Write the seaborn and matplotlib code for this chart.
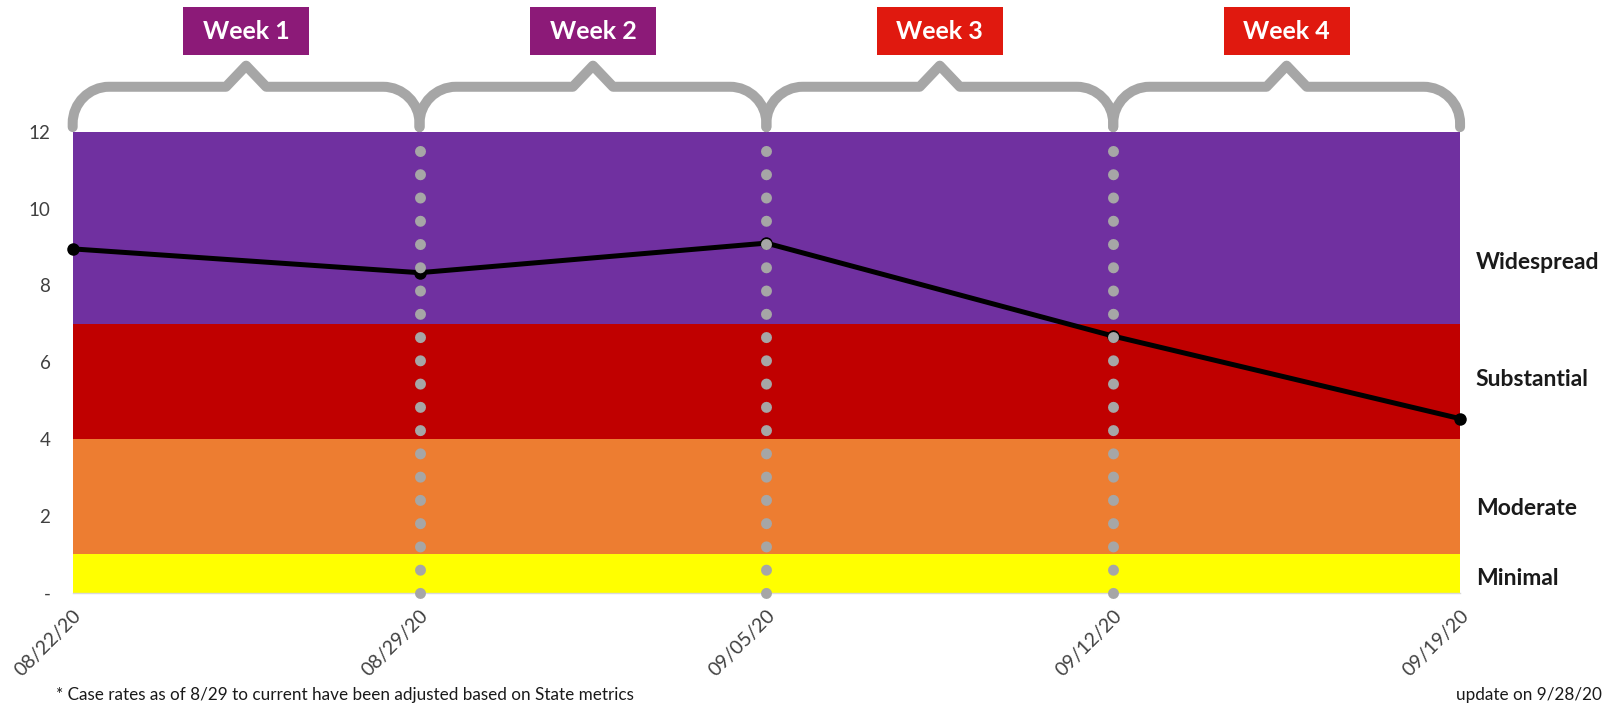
import matplotlib
matplotlib.use("Agg")
import matplotlib.pyplot as plt
import seaborn as sns
from matplotlib.path import Path
from matplotlib.patches import PathPatch, Rectangle
from matplotlib.lines import Line2D

# ---------------- data ----------------
dates = ["08/22/20", "08/29/20", "09/05/20", "09/12/20", "09/19/20"]
case_rate = [8.95, 8.33, 9.10, 6.68, 4.53]

band_names = ["Minimal", "Moderate", "Substantial", "Widespread"]
band_lower = [0, 1, 4, 7]
band_upper = [1, 4, 7, 12]
band_colors = ["#FFFF00", "#ED7D31", "#C00000", "#7030A0"]
band_label_y = [0.38, 2.2, 5.54, 8.6]

week_labels = ["Week 1", "Week 2", "Week 3", "Week 4"]
week_colors = ["#8C1A78", "#8C1A78", "#E0190F", "#E0190F"]

y_ticks = [0, 2, 4, 6, 8, 10, 12]
y_tick_labels = ["-", "2", "4", "6", "8", "10", "12"]

footnote = "* Case rates as of 8/29 to current have been adjusted based on State metrics"
update_note = "update on 9/28/20"

# ---------------- style ----------------
sns.set_theme(style="white")
plt.rcParams["font.family"] = ["Lato", "DejaVu Sans"]
TXT = "#404040"
GRAY = "#A6A6A6"

fig = plt.figure(figsize=(16.08, 7.07), dpi=100)
ax = fig.add_axes([0.0452, 0.1617, 0.8628, 0.652])

xpos = list(range(len(dates)))

# bands
for lo, hi, c in zip(band_lower, band_upper, band_colors):
    ax.axhspan(lo, hi, color=c, lw=0, zorder=0)

# line
sns.lineplot(x=xpos, y=case_rate, ax=ax, color="black", linewidth=3.6,
             marker="o", markersize=9, markeredgewidth=0, zorder=3,
             clip_on=False)

# dotted week separators
for x in xpos[1:-1]:
    ln = Line2D([x, x], [0, 11.56], color=GRAY, lw=7.9,
                linestyle=(0, (0.01, 2.11)), dash_capstyle="round", zorder=4,
                clip_on=False)
    ax.add_line(ln)

ax.set_xlim(0, len(dates) - 1)
ax.set_ylim(0, 12)

# braces and week boxes
rx, ry = 0.105, 0.95
yb, yh, ya, a = 12.12, 13.17, 13.72, 0.058
k = 0.55
for i, (lab, col) in enumerate(zip(week_labels, week_colors)):
    x0, x1 = xpos[i], xpos[i + 1]
    xm = (x0 + x1) / 2
    verts = [(x0, yb), (x0, yh - ry),
             (x0, yh - ry + k * ry), (x0 + rx - k * rx, yh), (x0 + rx, yh),
             (xm - a, yh), (xm, ya), (xm + a, yh),
             (x1 - rx, yh),
             (x1 - rx + k * rx, yh), (x1, yh - ry + k * ry), (x1, yh - ry),
             (x1, yb)]
    codes = [Path.MOVETO, Path.LINETO,
             Path.CURVE4, Path.CURVE4, Path.CURVE4,
             Path.LINETO, Path.LINETO, Path.LINETO,
             Path.LINETO,
             Path.CURVE4, Path.CURVE4, Path.CURVE4,
             Path.LINETO]
    pp = PathPatch(Path(verts, codes), fill=False, edgecolor=GRAY, lw=7.2,
                   capstyle="round", joinstyle="round", clip_on=False, zorder=2)
    ax.add_patch(pp)
    w = 0.363
    ax.add_patch(Rectangle((xm - w / 2, 14.0), w, 1.25, facecolor=col,
                           edgecolor="none", clip_on=False, zorder=2))
    ax.text(xm, 14.62, lab, color="white", fontsize=18, fontweight="bold",
            ha="center", va="center", zorder=3, clip_on=False)

# band labels on the right
for name, yl in zip(band_names, band_label_y):
    ax.text(4.045, yl, name, fontsize=16.5, fontweight="bold", color="#1a1a1a",
            ha="left", va="center", clip_on=False)

# axes cosmetics
ax.set_yticks(y_ticks)
ax.set_yticklabels(y_tick_labels, color=TXT, fontsize=13.5)
ax.set_xticks(xpos)
ax.set_xticklabels(dates, color=TXT, fontsize=14, rotation=45, ha="right",
                   rotation_mode="anchor")
ax.tick_params(axis="y", length=0, pad=16)
ax.tick_params(axis="x", length=4, color="#D9D9D9", pad=6)
for s in ["top", "right", "left"]:
    ax.spines[s].set_visible(False)
ax.spines["bottom"].set_color("#D9D9D9")
ax.spines["bottom"].set_linewidth(1)
ax.grid(False)

fig.text(56 / 1608, 1 - 695 / 707, footnote, fontsize=12.3, color="#1a1a1a",
         ha="left", va="center")
fig.text(1602 / 1608, 1 - 695 / 707, update_note, fontsize=12.3, color="#1a1a1a",
         ha="right", va="center")

fig.savefig("out.png", dpi=100)
